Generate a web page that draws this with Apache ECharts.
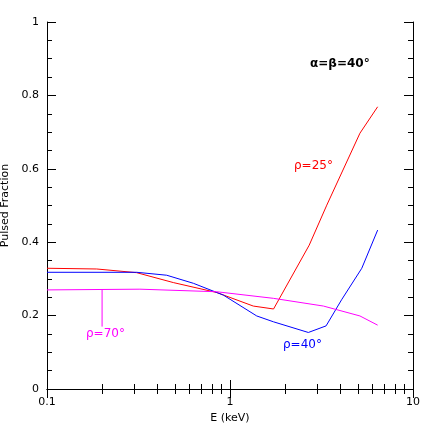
<!DOCTYPE html><html><head><meta charset="utf-8"><script src="https://cdn.jsdelivr.net/npm/echarts@6/dist/echarts.min.js"></script></head><body style="margin:0;background:#fff"><div id="c" style="width:436px;height:436px"></div><script>
const red = [[0.1,0.329],[0.187,0.327],[0.309,0.317],[0.49,0.29],[0.845,0.263],[1.34,0.226],[1.73,0.218],[2.71,0.392],[3.38,0.501],[5.13,0.697],[6.41,0.769]];
const blue = [[0.1,0.318],[0.309,0.318],[0.451,0.31],[0.631,0.288],[0.919,0.256],[1.4,0.199],[1.73,0.183],[2.68,0.154],[3.35,0.172],[4.07,0.243],[5.25,0.329],[6.41,0.433]];
const magenta = [[0.1,0.27],[0.322,0.272],[0.845,0.265],[1.73,0.247],[3.24,0.226],[5.13,0.199],[6.41,0.174]];
const pointer = [[0.2,0.272],[0.2,0.17]];
const xTicks = [0.1,1,10];
const yTicks = [0,0.2,0.4,0.6,0.8,1];
const F = 'DejaVu Sans';
const ch = echarts.init(document.getElementById('c'));
const axBase = {axisLine:{show:true,lineStyle:{color:'#000',width:1}},axisTick:{show:true,inside:true,length:9,lineStyle:{color:'#000'}},minorTick:{show:true,length:5,lineStyle:{color:'#000'}},splitLine:{show:false},minorSplitLine:{show:false}};
const xa = (pos,lab)=>Object.assign({type:'log',logBase:10,min:0.1,max:10,position:pos,axisLabel:{show:lab,color:'#000',fontFamily:F,fontSize:11,margin:8,formatter:v=>String(+(+v).toPrecision(3))}},JSON.parse(JSON.stringify(axBase)),{minorTick:{show:true,splitNumber:9,length:5,lineStyle:{color:'#000'}}});
const ya = (pos,lab)=>Object.assign({type:'value',min:0,max:1,interval:0.2,position:pos,axisLabel:{show:lab,color:'#000',fontFamily:F,fontSize:11,margin:8,formatter:v=>String(+v.toFixed(1))}},JSON.parse(JSON.stringify(axBase)),{minorTick:{show:true,splitNumber:4,length:5,lineStyle:{color:'#000'}}});
const ln = (d,c)=>({type:'line',data:d,showSymbol:false,symbol:'none',lineStyle:{color:c,width:1},itemStyle:{color:c},silent:true,animation:false});
ch.setOption({
 animation:false,
 grid:{left:47,right:23,top:22,bottom:47,containLabel:false,outerBoundsMode:'none'},
 xAxis:[Object.assign(xa('bottom',true),{name:'E (keV)',nameLocation:'middle',nameGap:22,nameTextStyle:{color:'#000',fontFamily:F,fontSize:11}}),xa('top',false)],
 yAxis:[Object.assign(ya('left',true),{name:'Pulsed Fraction',nameLocation:'middle',nameGap:32,nameTextStyle:{color:'#000',fontFamily:F,fontSize:11}}),ya('right',false)],
 series:[ln(red,'#ff0000'),ln(blue,'#0000ff'),ln(magenta,'#ff00ff'),ln(pointer,'#ff00ff')],
 graphic:[
  {type:'text',left:310,top:58,style:{text:'α=β=40°',font:'bold 12px "DejaVu Sans"',fill:'#000'}},
  {type:'text',left:294,top:160,style:{text:'ρ=25°',font:'12px "DejaVu Sans"',fill:'#ff0000'}},
  {type:'text',left:86,top:328,style:{text:'ρ=70°',font:'12px "DejaVu Sans"',fill:'#ff00ff'}},
  {type:'text',left:283,top:339,style:{text:'ρ=40°',font:'12px "DejaVu Sans"',fill:'#0000ff'}}
 ]
});
</script></body></html>
